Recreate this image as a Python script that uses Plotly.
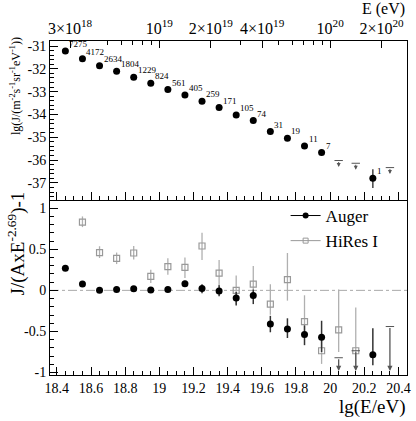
import numpy as np
import plotly.graph_objects as go

# ---------------- data ----------------
lgE = [18.45, 18.55, 18.65, 18.75, 18.85, 18.95, 19.05, 19.15, 19.25,
       19.35, 19.45, 19.55, 19.65, 19.75, 19.85, 19.95, 20.25]
lgJ = [-31.22, -31.56, -31.86, -32.11, -32.37, -32.63, -32.91, -33.15, -33.42,
       -33.70, -34.02, -34.27, -34.75, -35.04, -35.38, -35.67, -36.80]
lgJ_up = [0.01, 0.01, 0.01, 0.01, 0.01, 0.01, 0.02, 0.02, 0.02,
          0.02, 0.03, 0.03, 0.04, 0.05, 0.07, 0.10, 0.40]
lgJ_dn = [0.01, 0.01, 0.01, 0.01, 0.01, 0.01, 0.02, 0.02, 0.02,
          0.02, 0.03, 0.03, 0.05, 0.06, 0.08, 0.12, 0.43]
counts = ["7275", "4172", "2634", "1804", "1229", "824", "561", "405", "259",
          "171", "105", "74", "31", "19", "11", "7", "1"]
lim_top_x = [20.05, 20.15, 20.35]
lim_top_y = [-36.02, -36.14, -36.33]

auger_x = [18.45, 18.55, 18.65, 18.75, 18.85, 18.95, 19.05, 19.15, 19.25,
           19.35, 19.45, 19.55, 19.65, 19.75, 19.85, 19.95, 20.25]
auger_y = [0.27, 0.077, 0.0, 0.012, 0.02, 0.005, 0.012, 0.08, 0.024,
           -0.008, -0.094, -0.061, -0.41, -0.47, -0.537, -0.57, -0.785]
auger_up = [0.01, 0.01, 0.01, 0.01, 0.015, 0.015, 0.02, 0.037, 0.05,
            0.07, 0.074, 0.07, 0.10, 0.13, 0.11, 0.20, 0.325]
auger_dn = [0.01, 0.01, 0.01, 0.01, 0.015, 0.015, 0.02, 0.037, 0.06,
            0.065, 0.09, 0.106, 0.10, 0.11, 0.13, 0.18, 0.125]
lim_bot_x = [20.05, 20.15, 20.35]
lim_bot_y = [-0.82, -0.735, -0.44]

hires_x = [18.55, 18.65, 18.75, 18.85, 18.95, 19.05, 19.15, 19.25, 19.35,
           19.45, 19.55, 19.65, 19.75, 19.85, 19.95, 20.05, 20.15]
hires_y = [0.83, 0.46, 0.39, 0.455, 0.17, 0.29, 0.28, 0.54, 0.21,
           0.0, 0.077, -0.167, 0.13, -0.38, -0.735, -0.48, -0.735]
hires_up = [0.07, 0.077, 0.07, 0.085, 0.08, 0.10, 0.12, 0.16, 0.16,
            0.18, 0.22, 0.24, 0.325, 0.32, 0.17, 0.49, 0.525]
hires_dn = [0.06, 0.066, 0.07, 0.08, 0.08, 0.10, 0.13, 0.17, 0.16,
            0.17, 0.13, 0.13, 0.255, 0.12, 0.16, 0.27, 0.20]

top_tick_E = [3e18, 1e19, 2e19, 4e19, 1e20, 2e20]
top_tick_text = ["3×10<sup>18</sup>", "10<sup>19</sup>", "2×10<sup>19</sup>",
                 "4×10<sup>19</sup>", "10<sup>20</sup>", "2×10<sup>20</sup>"]
top_minor_E = [5e18, 6e18, 7e18, 8e18, 9e18, 3e19, 5e19, 6e19, 7e19, 8e19, 9e19]

lim_floor = -0.98
arrow_len_top = 0.28

# ---------------- figure ----------------
FONT = "Liberation Serif"
XR = [18.36, 20.45]
split = 0.524

fig = go.Figure()

fig.add_trace(go.Scatter(
    x=lgE, y=lgJ, mode="markers", xaxis="x", yaxis="y", showlegend=False,
    marker=dict(symbol="circle", size=7, color="black"),
    error_y=dict(type="data", symmetric=False, array=lgJ_up, arrayminus=lgJ_dn,
                 color="#444", thickness=1.5, width=0)))

# upper-limit bars (placed on the top energy axis, which shares the range)
fig.add_trace(go.Scatter(
    x=lim_top_x, y=lim_top_y, mode="markers", xaxis="x3", yaxis="y", showlegend=False,
    marker=dict(symbol="line-ew", size=6, line=dict(width=1, color="#555"))))

fig.add_trace(go.Scatter(
    x=hires_x, y=hires_y, mode="markers", xaxis="x2", yaxis="y2", showlegend=False,
    marker=dict(symbol="square-open", size=6, color="#999", line=dict(width=1.2)),
    error_y=dict(type="data", symmetric=False, array=hires_up, arrayminus=hires_dn,
                 color="#b0b0b0", thickness=1.3, width=0)))

fig.add_trace(go.Scatter(
    x=auger_x, y=auger_y, mode="markers", xaxis="x2", yaxis="y2", showlegend=False,
    marker=dict(symbol="circle", size=7, color="black"),
    error_y=dict(type="data", symmetric=False, array=auger_up, arrayminus=auger_dn,
                 color="#333", thickness=1.5, width=0)))

fig.add_trace(go.Scatter(
    x=lim_bot_x, y=lim_bot_y, mode="markers", xaxis="x2", yaxis="y2", showlegend=False,
    marker=dict(symbol="line-ew", size=6, line=dict(width=1, color="#555"))))

# legend-only traces
fig.add_trace(go.Scatter(x=[None], y=[None], mode="lines+markers", name="Auger",
                         xaxis="x2", yaxis="y2",
                         line=dict(color="black", width=1),
                         marker=dict(symbol="circle", size=6, color="black")))
fig.add_trace(go.Scatter(x=[None], y=[None], mode="lines+markers", name="HiRes I",
                         xaxis="x2", yaxis="y2",
                         line=dict(color="#999", width=1),
                         marker=dict(symbol="square-open", size=5, color="#999")))

annotations = []
for xv, yv, t in zip(lgE, lgJ, counts):
    annotations.append(dict(x=xv, y=yv, xref="x", yref="y", text=t, showarrow=False,
                            xanchor="left", yanchor="bottom", xshift=2, yshift=0,
                            font=dict(family=FONT, size=9, color="black")))
for xv, yv in zip(lim_top_x, lim_top_y):
    annotations.append(dict(x=xv, y=yv - arrow_len_top, ax=xv, ay=yv, xref="x", yref="y",
                            axref="x", ayref="y", text="", showarrow=True,
                            arrowhead=2, arrowsize=0.8, arrowwidth=1, arrowcolor="#555"))
for xv, yv in zip(lim_bot_x, lim_bot_y):
    annotations.append(dict(x=xv, y=lim_floor, ax=xv, ay=yv, xref="x2", yref="y2",
                            axref="x2", ayref="y2", text="", showarrow=True,
                            arrowhead=2, arrowsize=0.8, arrowwidth=1.3, arrowcolor="#555"))

annotations += [
    dict(text="lg(J/(m<sup>-2</sup>s<sup>-1</sup>sr<sup>-1</sup>eV<sup>-1</sup>))",
         x=-0.095, y=1.018, xref="paper", yref="paper", textangle=-90, showarrow=False,
         xanchor="center", yanchor="top", font=dict(family=FONT, size=12, color="black")),
    dict(text="J/(AxE<sup>-2.69</sup>)-1",
         x=-0.095, y=0.556, xref="paper", yref="paper", textangle=-90, showarrow=False,
         xanchor="center", yanchor="top", font=dict(family=FONT, size=19, color="black")),
    dict(text="E (eV)", x=1.0, y=1.096, xref="paper", yref="paper", showarrow=False,
         xanchor="right", yanchor="middle", font=dict(family=FONT, size=16, color="black")),
    dict(text="lg(E/eV)", x=1.0, y=-0.097, xref="paper", yref="paper", showarrow=False,
         xanchor="right", yanchor="middle", font=dict(family=FONT, size=19, color="black")),
]

tickfont = dict(family=FONT, size=14, color="black")
axcommon = dict(showline=True, linecolor="black", linewidth=1, showgrid=False,
                zeroline=False, ticks="inside", tickcolor="black")

top_ticks_lg = [float(np.log10(v)) for v in top_tick_E]
top_minor_lg = [float(np.log10(v)) for v in top_minor_E]

fig.update_layout(
    width=416, height=421,
    margin=dict(l=50, r=5, t=41, b=46),
    paper_bgcolor="white", plot_bgcolor="white",
    font=dict(family=FONT, color="black"),
    xaxis=dict(domain=[0, 1], anchor="y", range=XR, showticklabels=False,
               tick0=18.4, dtick=0.2, ticklen=8,
               minor=dict(dtick=0.05, tick0=18.4, ticklen=4, ticks="inside", tickcolor="black"),
               **axcommon),
    xaxis2=dict(domain=[0, 1], anchor="y2", range=XR, tickfont=tickfont,
                tickmode="array", tickvals=[18.4, 18.6, 18.8, 19.0, 19.2, 19.4, 19.6, 19.8, 20.0, 20.2, 20.4],
                ticktext=["18.4", "18.6", "18.8", "19", "19.2", "19.4", "19.6", "19.8", "20", "20.2", "20.4"],
                ticklen=8,
                minor=dict(dtick=0.05, tick0=18.4, ticklen=4, ticks="inside", tickcolor="black"),
                **axcommon),
    xaxis3=dict(overlaying="x", anchor="y", side="top", range=XR,
                tickfont=dict(family=FONT, size=16, color="black"), ticklabelstandoff=0,
                tickmode="array", tickvals=top_ticks_lg, ticktext=top_tick_text, ticklen=7,
                minor=dict(tickmode="array", tickvals=top_minor_lg, ticklen=4,
                           ticks="inside", tickcolor="black"),
                **axcommon),
    yaxis=dict(domain=[split, 1], anchor="x", range=[-37.75, -30.78], tickfont=tickfont,
               tickmode="array", tickvals=[-31, -32, -33, -34, -35, -36, -37],
               ticktext=["-31", "-32", "-33", "-34", "-35", "-36", "-37"], ticklen=8,
               minor=dict(dtick=0.2, tick0=-37, ticklen=4, ticks="inside", tickcolor="black"),
               mirror=True, **axcommon),
    yaxis2=dict(domain=[0, split], anchor="x2", range=[-1.03, 1.1], tickfont=tickfont,
                tickmode="array", tickvals=[1, 0.5, 0, -0.5, -1],
                ticktext=["1", "0.5", "0", "-0.5", "-1"], ticklen=8,
                minor=dict(dtick=0.1, tick0=0, ticklen=4, ticks="inside", tickcolor="black"),
                mirror=True, **axcommon),
    legend=dict(x=0.66, y=0.53, xanchor="left", yanchor="top",
                bgcolor="rgba(0,0,0,0)", font=dict(family=FONT, size=17, color="black"),
                tracegroupgap=0, itemwidth=30),
    shapes=[dict(type="line", xref="x2 domain", yref="y2", x0=0, x1=1, y0=0, y1=0,
                 line=dict(color="#aaaaaa", width=1, dash="dashdot"), layer="below")],
    annotations=annotations,
)

fig.write_html("out.html", config={"displayModeBar": False},
               post_script="document.body.style.margin='0';document.body.style.overflow='hidden';")
